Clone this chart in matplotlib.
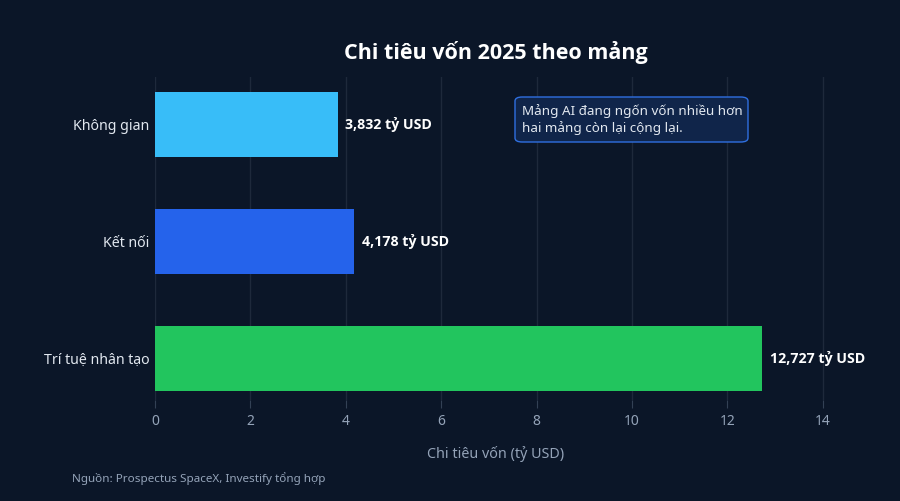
import matplotlib
matplotlib.use('Agg')
import matplotlib.pyplot as plt
from matplotlib.patches import FancyBboxPatch

categories = ['Không gian', 'Kết nối', 'Trí tuệ nhân tạo']
capex = [3.832, 4.178, 12.727]
value_labels = ['3,832 tỷ USD', '4,178 tỷ USD', '12,727 tỷ USD']
bar_colors = ['#38bdf8', '#2563eb', '#22c55e']
xticks = [0, 2, 4, 6, 8, 10, 12, 14]

BG = '#0b1628'
plt.rcParams['font.family'] = ['Noto Sans', 'DejaVu Sans']
BOLD = ['Open Sans', 'Noto Sans', 'DejaVu Sans']

fig = plt.figure(figsize=(9, 5.01), dpi=100, facecolor=BG)
ax = fig.add_axes([155 / 900, 1 - 400 / 501, (837 - 155) / 900, (400 - 77) / 501])
ax.set_facecolor(BG)

ypos = list(range(len(categories)))
ax.barh(ypos, capex, height=0.555, color=bar_colors, zorder=3)
for y, v, lab in zip(ypos, capex, value_labels):
    ax.annotate(lab, (v, y), xytext=(5.5, 0), textcoords='offset points',
                va='center', ha='left', color='white', fontsize=10.2,
                fontweight='bold', family=BOLD, zorder=4)

ax.set_xlim(0, 14.3)
ax.set_ylim(2.355, -0.406)
ax.set_yticks(ypos)
ax.set_yticklabels(categories, color='#e2e8f0', fontsize=10.2)
ax.set_xticks(xticks)
ax.set_xticklabels([str(t) for t in xticks], color='#94a3b8', fontsize=10)
ax.tick_params(axis='y', length=0, pad=4)
ax.tick_params(axis='x', length=6, color='#334155', pad=4)
ax.grid(axis='x', color='#1e293b', linewidth=1, zorder=0)
for s in ax.spines.values():
    s.set_visible(False)

ax.set_xlabel('Chi tiêu vốn (tỷ USD)', color='#94a3b8', fontsize=10.3,
              labelpad=12)
fig.text(496 / 900, 1 - 53 / 501, 'Chi tiêu vốn 2025 theo mảng',
         ha='center', va='center', color='white', fontsize=15.5,
         fontweight='bold', family=BOLD)
fig.text(72 / 900, 1 - 479 / 501, 'Nguồn: Prospectus SpaceX, Investify tổng hợp',
         ha='left', va='center', color='#94a3b8', fontsize=8.4)

# note box
bx0, by0, bx1, by1 = 515, 97, 748, 142
box = FancyBboxPatch((bx0 / 900, 1 - by1 / 501), (bx1 - bx0) / 900,
                     (by1 - by0) / 501, boxstyle='round,pad=0,rounding_size=0.008',
                     transform=fig.transFigure, facecolor='#10254a',
                     edgecolor='#2f6fe0', linewidth=1, zorder=5)
fig.patches.append(box)
fig.text(522 / 900, 1 - 119.5 / 501,
         'Mảng AI đang ngốn vốn nhiều hơn\nhai mảng còn lại cộng lại.',
         ha='left', va='center', color='#e2e8f0', fontsize=9.7,
         linespacing=1.2, zorder=6)

fig.savefig('out.png', dpi=100, facecolor=BG)
